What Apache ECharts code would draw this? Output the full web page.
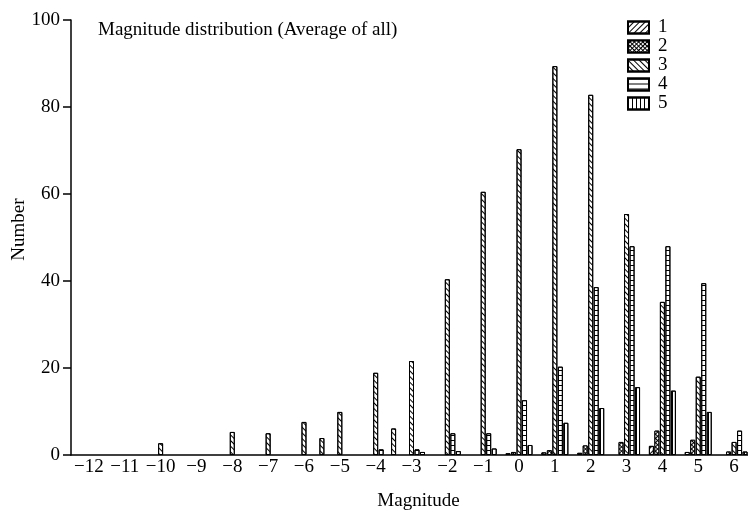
<!DOCTYPE html>
<html>
<head>
<meta charset="utf-8">
<script src="https://cdn.jsdelivr.net/npm/echarts@6/dist/echarts.min.js"></script>
<style>
html, body { margin: 0; padding: 0; background: #fff; }
#chart { width: 748px; height: 515px; }
</style>
</head>
<body>
<div id="chart"></div>
<script>
// initialize the echarts instance
var myChart = echarts.init(document.getElementById("chart"));

// tick labels along the bottom
const magnitudes = [-12, -11, -10, -9, -8, -7, -6, -5, -4, -3, -2, -1, 0, 1, 2, 3, 4, 5, 6];
const seriesNames = ["1", "2", "3", "4", "5"];

// [magnitude, number]
const set1 = [[0, 0.4], [1, 0.6], [2, 0.5], [4, 2.1], [5, 0.7]];
const set2 = [[0, 0.7], [1, 1.1], [2, 2.2], [3, 3.0], [4, 5.6], [5, 3.5], [6, 0.8]];
const set3 = [[-10, 2.7], [-8, 5.3], [-7, 5.0], [-6, 7.6], [-5.5, 3.9], [-5, 9.9], [-4, 18.9],
    [-3.5, 6.1], [-3, 21.6], [-2, 40.4], [-1, 60.5], [0, 70.3], [1, 89.4], [2, 82.8],
    [3, 55.4], [4, 35.2], [5, 18.0], [6, 3.0]];
const set4 = [[-4, 1.3], [-3, 1.3], [-2, 5.0], [-1, 5.0], [0, 12.6], [1, 20.3], [2, 38.6],
    [3, 48.0], [4, 48.0], [5, 39.5], [6, 5.6]];
const set5 = [[-3, 0.7], [-2, 0.9], [-1, 1.5], [0, 2.3], [1, 7.4], [2, 10.8], [3, 15.6],
    [4, 14.8], [5, 9.9], [6, 0.8]];

const sets = [set1, set2, set3, set4, set5];

const serif = "Liberation Serif";

// hatch patterns, one per series
const hatches = [
    { symbol: "rect", symbolSize: 1, dashArrayX: [1, 0], dashArrayY: [1, 3], rotation: -Math.PI / 4, color: "#000" },
    { symbol: "rect", symbolSize: 1, dashArrayX: [2, 1], dashArrayY: [2, 1], rotation: Math.PI / 4, color: "#fff" },
    { symbol: "rect", symbolSize: 1, dashArrayX: [1, 0], dashArrayY: [1, 3], rotation: Math.PI / 4, color: "#000" },
    { symbol: "rect", symbolSize: 1, dashArrayX: [1, 0], dashArrayY: [1, 4], rotation: 0, color: "#000" },
    { symbol: "rect", symbolSize: 1, dashArrayX: [1, 3], dashArrayY: [1, 0], rotation: 0, color: "#000" }
];

var option = {
    animation: false,
    backgroundColor: "#fff",
    title: {
        text: "Magnitude distribution (Average of all)",
        left: 93,
        top: 16,
        textStyle: { fontFamily: serif, fontSize: 19, fontWeight: "normal", color: "#000" }
    },
    legend: {
        data: seriesNames,
        orient: "vertical",
        left: 622,
        top: 13,
        icon: "rect",
        itemWidth: 21,
        itemHeight: 12,
        itemGap: 0,
        textStyle: { fontFamily: serif, fontSize: 19, color: "#000", padding: [0, 0, 0, 4] }
    },
    grid: { left: 71, right: -4, top: 20, bottom: 60, outerBoundsMode: "none" },
    xAxis: [
        {
            type: "category",
            position: "bottom",
            data: magnitudes.map(function (m) { return String(m).replace("-", "\u2212"); }),
            boundaryGap: true,
            name: "Magnitude",
            nameLocation: "middle",
            nameGap: 37,
            nameMoveOverlap: false,
            nameTextStyle: { fontFamily: serif, fontSize: 19, color: "#000", padding: [0, 0, 0, 14] },
            axisLine: { lineStyle: { color: "#000", width: 1.5 } },
            axisTick: { length: 7, interval: 0, lineStyle: { color: "#000", width: 1.5 } },
            axisLabel: { fontFamily: serif, fontSize: 19, color: "#000", margin: 3, interval: 0 },
            splitLine: { show: false }
        },
        {
            // hidden scale the bars are placed on
            type: "value",
            position: "bottom",
            min: -12.5,
            max: 6.5,
            show: false
        }
    ],
    yAxis: {
        type: "value",
        min: 0,
        max: 100,
        interval: 20,
        name: "Number",
        nameLocation: "middle",
        nameRotate: 90,
        nameGap: 42,
        nameMoveOverlap: false,
        nameTextStyle: { fontFamily: serif, fontSize: 19, color: "#000", padding: [0, 0, 0, 16] },
        axisLine: { show: true, onZero: false, lineStyle: { color: "#000", width: 1.5 } },
        axisTick: { show: true, length: 8, lineStyle: { color: "#000", width: 1.5 } },
        axisLabel: { fontFamily: serif, fontSize: 19, color: "#000", margin: 11 },
        splitLine: { show: false }
    },
    series: seriesNames.map(function (name, i) {
        return {
            name: name,
            type: "bar",
            xAxisIndex: 1,
            data: sets[i],
            barWidth: 5,
            barGap: "10%",
            itemStyle: {
                color: i === 1 ? "#000" : "#fff",
                borderColor: "#000",
                borderWidth: 1,
                decal: hatches[i]
            }
        };
    })
};

option && myChart.setOption(option);
</script>
</body>
</html>
